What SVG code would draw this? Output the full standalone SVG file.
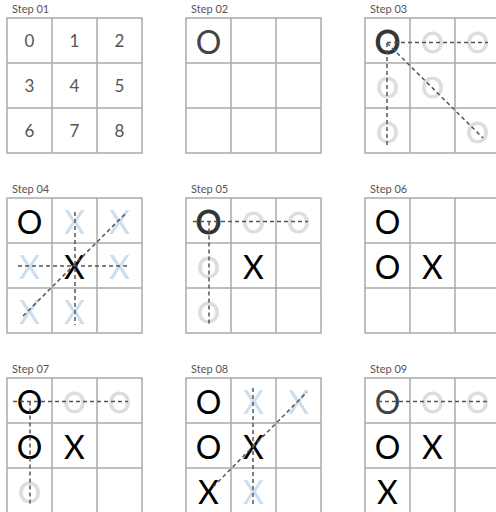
<svg xmlns="http://www.w3.org/2000/svg" width="496" height="512" viewBox="0 0 496 512">
<style>
.bg{fill:#fff}
.grid{fill:#fff;stroke:#aaa;stroke-width:1.5}
.gl{stroke:#aaa;stroke-width:1.5}
.lbl{font-family:Lato,"Liberation Sans",sans-serif;font-size:11px;fill:#555}
.num{font-family:Lato,"Liberation Sans",sans-serif;font-size:17px;fill:#555;text-anchor:middle}
.m{font-family:Lato,"Liberation Sans",sans-serif;font-size:32px;fill:#000;text-anchor:middle}
.dk{fill:#444}
.hl{fill:#333;stroke:#333;stroke-width:1}
.go{font-family:Lato,"Liberation Sans",sans-serif;font-size:28px;fill:#ddd;stroke:#ddd;stroke-width:0.8;text-anchor:middle}
.gx{font-family:Lato,"Liberation Sans",sans-serif;font-size:32px;fill:#cadeef;text-anchor:middle}
.d{stroke:#555;stroke-width:1.5;stroke-dasharray:4 3;fill:none}
</style>
<defs>
<g id="board">
<rect class="grid" x="0" y="0" width="135" height="135"/>
<line class="gl" x1="45" y1="0" x2="45" y2="135"/>
<line class="gl" x1="90" y1="0" x2="90" y2="135"/>
<line class="gl" x1="0" y1="45" x2="135" y2="45"/>
<line class="gl" x1="0" y1="90" x2="135" y2="90"/>
</g>
</defs>
<rect class="bg" x="0" y="0" width="496" height="512"/>

<g id="step01">
<text class="lbl" x="12" y="13">Step 01</text>
<use href="#board" x="7" y="18"/>
<text class="num" x="29.5" y="47">0</text>
<text class="num" x="74.5" y="47">1</text>
<text class="num" x="119.5" y="47">2</text>
<text class="num" x="29.5" y="92">3</text>
<text class="num" x="74.5" y="92">4</text>
<text class="num" x="119.5" y="92">5</text>
<text class="num" x="29.5" y="137">6</text>
<text class="num" x="74.5" y="137">7</text>
<text class="num" x="119.5" y="137">8</text>
</g>

<g id="step02">
<text class="lbl" x="191" y="13">Step 02</text>
<use href="#board" x="186" y="18"/>
<text class="m dk" x="208.5" y="54">O</text>
</g>

<g id="step03">
<text class="lbl" x="370" y="13">Step 03</text>
<use href="#board" x="365" y="18"/>
<text class="go" x="432.5" y="52.5">O</text>
<text class="go" x="477.5" y="52.5">O</text>
<text class="go" x="387.5" y="97.5">O</text>
<text class="go" x="432.5" y="97.5">O</text>
<text class="go" x="387.5" y="142.5">O</text>
<text class="go" x="477.5" y="142.5">O</text>
<text class="m hl" x="387.5" y="54">O</text>
</g>

<g id="step04">
<text class="lbl" x="12" y="193">Step 04</text>
<use href="#board" x="7" y="198"/>
<text class="gx" x="74.5" y="234">X</text>
<text class="gx" x="119.5" y="234">X</text>
<text class="gx" x="29.5" y="279">X</text>
<text class="gx" x="119.5" y="279">X</text>
<text class="gx" x="29.5" y="324">X</text>
<text class="gx" x="74.5" y="324">X</text>
<text class="m" x="29.5" y="234">O</text>
<text class="m" x="74.5" y="279">X</text>
</g>

<g id="step05">
<text class="lbl" x="191" y="193">Step 05</text>
<use href="#board" x="186" y="198"/>
<text class="go" x="253.5" y="232.5">O</text>
<text class="go" x="298.5" y="232.5">O</text>
<text class="go" x="208.5" y="277.5">O</text>
<text class="go" x="208.5" y="322.5">O</text>
<text class="m hl" x="208.5" y="234">O</text>
<text class="m" x="253.5" y="279">X</text>
</g>

<g id="step06">
<text class="lbl" x="370" y="193">Step 06</text>
<use href="#board" x="365" y="198"/>
<text class="m" x="387.5" y="234">O</text>
<text class="m" x="387.5" y="279">O</text>
<text class="m" x="432.5" y="279">X</text>
</g>

<g id="step07">
<text class="lbl" x="12" y="373">Step 07</text>
<use href="#board" x="7" y="378"/>
<text class="go" x="74.5" y="412.5">O</text>
<text class="go" x="119.5" y="412.5">O</text>
<text class="go" x="29.5" y="502.5">O</text>
<text class="m" x="29.5" y="414">O</text>
<text class="m" x="29.5" y="459">O</text>
<text class="m" x="74.5" y="459">X</text>
</g>

<g id="step08">
<text class="lbl" x="191" y="373">Step 08</text>
<use href="#board" x="186" y="378"/>
<text class="gx" x="253.5" y="414">X</text>
<text class="gx" x="298.5" y="414">X</text>
<text class="gx" x="253.5" y="504">X</text>
<text class="m" x="208.5" y="414">O</text>
<text class="m" x="208.5" y="459">O</text>
<text class="m" x="253.5" y="459">X</text>
<text class="m" x="208.5" y="504">X</text>
</g>

<g id="step09">
<text class="lbl" x="370" y="373">Step 09</text>
<use href="#board" x="365" y="378"/>
<text class="go" x="432.5" y="412.5">O</text>
<text class="go" x="477.5" y="412.5">O</text>
<text class="m dk" x="387.5" y="414">O</text>
<text class="m" x="387.5" y="459">O</text>
<text class="m" x="432.5" y="459">X</text>
<text class="m" x="387.5" y="504">X</text>
</g>

<g id="connectors">
<line class="d" x1="387" y1="42.5" x2="488" y2="42.5"/>
<line class="d" x1="387" y1="43" x2="387" y2="147"/>
<line class="d" x1="387" y1="43" x2="483" y2="138"/>
<line class="d" x1="75" y1="212" x2="75" y2="325"/>
<line class="d" x1="18" y1="266" x2="130" y2="266"/>
<line class="d" x1="23" y1="316" x2="127" y2="212"/>
<line class="d" x1="193" y1="221.5" x2="308" y2="221.5"/>
<line class="d" x1="209" y1="221.5" x2="209" y2="325"/>
<line class="d" x1="13" y1="401.5" x2="128" y2="401.5"/>
<line class="d" x1="30" y1="401.5" x2="30" y2="505"/>
<line class="d" x1="253" y1="388" x2="253" y2="507"/>
<line class="d" x1="213" y1="487" x2="307" y2="392"/>
<line class="d" x1="378" y1="401.5" x2="488" y2="401.5"/>
</g>
</svg>
